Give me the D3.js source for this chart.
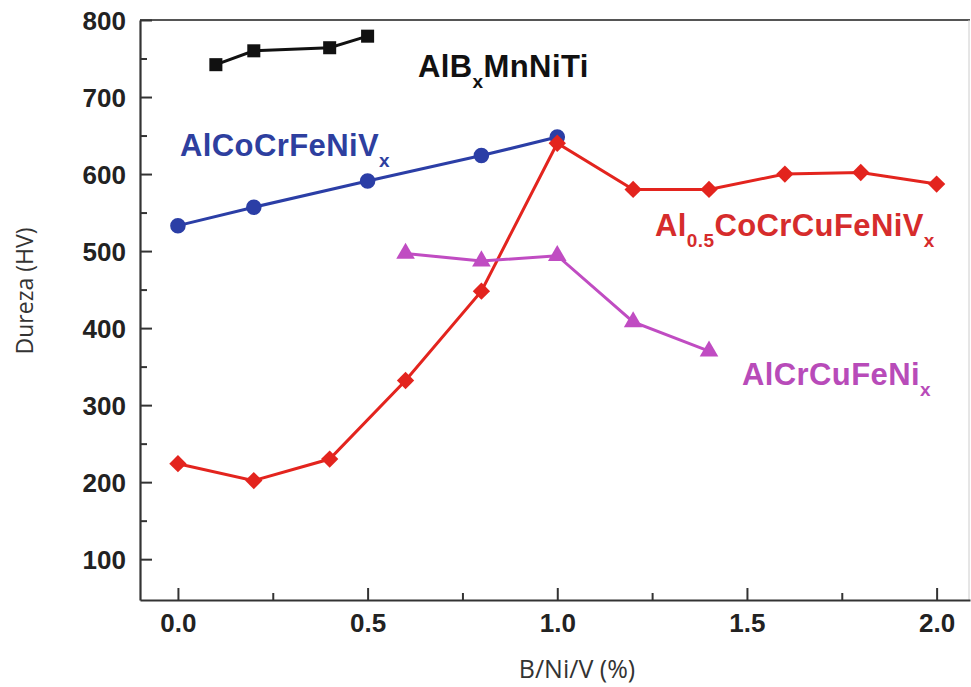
<!DOCTYPE html>
<html>
<head>
<meta charset="utf-8">
<script src="https://cdn.jsdelivr.net/npm/d3@7"></script>
<style>
  html, body { margin: 0; padding: 0; background: #fff; }
  svg { display: block; }
</style>
</head>
<body>
<svg id="chart" width="971" height="687"></svg>
<script>
// Boron / nickel / vanadium content (x) and Vickers hardness (HV)
const xAlBMnNiTi = [0.1, 0.2, 0.4, 0.5];
const yAlBMnNiTi = [742, 760, 764, 779];

const xAlCoCrFeNiV = [0.0, 0.2, 0.5, 0.8, 1.0];
const yAlCoCrFeNiV = [533, 557, 591, 624, 648];

const xAl05CoCrCuFeNiV = [0.0, 0.2, 0.4, 0.6, 0.8, 1.0, 1.2, 1.4, 1.6, 1.8, 2.0];
const yAl05CoCrCuFeNiV = [224, 202, 230, 332, 448, 640, 580, 580, 600, 602, 587];

const xAlCrCuFeNi = [0.6, 0.8, 1.0, 1.2, 1.4];
const yAlCrCuFeNi = [497, 487, 494, 408, 370];

const xTicks = [0.0, 0.5, 1.0, 1.5, 2.0];
const xMinorTicks = [0.25, 0.75, 1.25, 1.75];
const yTicks = [100, 200, 300, 400, 500, 600, 700, 800];
const yMinorTicks = [150, 250, 350, 450, 550, 650, 750];

const xTitle = "B/Ni/V (%)";
const yTitle = "Dureza (HV)";

const svg = d3.select("#chart");

const x = d3.scaleLinear().domain([-0.1, 2.088]).range([140, 970]);
const y = d3.scaleLinear().domain([47, 800]).range([600, 20]);

const axisColor = "#333";
const tickFont = "'Liberation Sans', Arial, sans-serif";

// Frame (top and right edges)
svg.append("line").attr("x1", x.range()[0]).attr("x2", x.range()[1])
  .attr("y1", y.range()[1]).attr("y2", y.range()[1])
  .attr("stroke", "#555").attr("stroke-width", 2);
svg.append("line").attr("x1", x.range()[1] - 1).attr("x2", x.range()[1] - 1)
  .attr("y1", y.range()[1]).attr("y2", y.range()[0])
  .attr("stroke", "#ccc").attr("stroke-width", 1);

// Minor ticks (inward, no labels)
svg.append("g").attr("transform", `translate(0,${y.range()[0]})`)
  .call(d3.axisBottom(x).tickValues(xMinorTicks).tickSize(-7).tickFormat(""))
  .call(g => g.select(".domain").remove());
svg.append("g").attr("transform", `translate(${x.range()[0]},0)`)
  .call(d3.axisLeft(y).tickValues(yMinorTicks).tickSize(-7).tickFormat(""))
  .call(g => g.select(".domain").remove());

// Major axes
const xAxis = svg.append("g").attr("transform", `translate(0,${y.range()[0]})`)
  .call(d3.axisBottom(x).tickValues(xTicks).tickSizeInner(-12).tickSizeOuter(0)
    .tickPadding(14).tickFormat(d3.format(".1f")));
const yAxis = svg.append("g").attr("transform", `translate(${x.range()[0]},0)`)
  .call(d3.axisLeft(y).tickValues(yTicks).tickSizeInner(-12).tickSizeOuter(0)
    .tickPadding(14).tickFormat(d3.format("d")));

[xAxis, yAxis].forEach(g => {
  g.selectAll(".domain").attr("stroke", axisColor).attr("stroke-width", 2.2);
  g.selectAll("text").attr("font-family", tickFont).attr("font-weight", "bold")
    .attr("font-size", 26).attr("fill", "#222");
});
svg.selectAll(".tick line").attr("stroke", axisColor).attr("stroke-width", 2);
yAxis.selectAll("text").attr("dy", "0.36em");

// Axis titles
svg.append("text").attr("x", 577).attr("y", 678).attr("text-anchor", "middle")
  .attr("font-family", "'Open Sans', sans-serif").attr("font-size", 25)
  .attr("fill", "#333").text(xTitle);
svg.append("text").attr("transform", "translate(33,291) rotate(-90)")
  .attr("text-anchor", "middle")
  .attr("font-family", "'Open Sans', sans-serif").attr("font-size", 23)
  .attr("fill", "#333").text(yTitle);

// Series
const series = [
  { xs: xAlBMnNiTi, ys: yAlBMnNiTi, color: "#111111", marker: "square" },
  { xs: xAlCoCrFeNiV, ys: yAlCoCrFeNiV, color: "#2b3ea6", marker: "circle" },
  { xs: xAl05CoCrCuFeNiV, ys: yAl05CoCrCuFeNiV, color: "#e3241e", marker: "diamond" },
  { xs: xAlCrCuFeNi, ys: yAlCrCuFeNi, color: "#c04cc2", marker: "triangle" }
];

const line = d3.line().x(d => x(d[0])).y(d => y(d[1]));
const markerPath = {
  square: d3.symbol(d3.symbolSquare, 170)(),
  circle: d3.symbol(d3.symbolCircle, 190)(),
  diamond: d3.symbol(d3.symbolSquare, 150)(),
  triangle: d3.symbol(d3.symbolTriangle, 150)()
};

series.forEach(s => {
  const pts = s.xs.map((v, i) => [v, s.ys[i]]);
  svg.append("path").datum(pts).attr("d", line)
    .attr("fill", "none").attr("stroke", s.color).attr("stroke-width", 3);
  svg.append("g").selectAll("path").data(pts).join("path")
    .attr("d", markerPath[s.marker])
    .attr("transform", d => `translate(${x(d[0])},${y(d[1])})` + (s.marker === "diamond" ? " rotate(45)" : ""))
    .attr("fill", s.color);
});

// Series labels with subscripts
const labelFont = "'Liberation Sans', Arial, sans-serif";
function label(xp, yp, parts, color) {
  const t = svg.append("text").attr("x", xp).attr("y", yp)
    .attr("font-family", labelFont).attr("font-weight", "bold")
    .attr("font-size", 31).attr("letter-spacing", 0.4).attr("fill", color);
  parts.forEach(p => {
    if (p.sub) {
      t.append("tspan").attr("font-size", 19).attr("dy", 11).text(p.sub);
    } else {
      const ts = t.append("tspan").text(p.text);
      if (p.after) ts.attr("dy", -11);
    }
  });
}
label(418, 77, [{ text: "AlB" }, { sub: "x" }, { text: "MnNiTi", after: true }], "#111111");
label(180, 156, [{ text: "AlCoCrFeNiV" }, { sub: "x" }], "#2e3f9f");
label(655, 236, [{ text: "Al" }, { sub: "0.5" }, { text: "CoCrCuFeNiV", after: true }, { sub: "x" }], "#d62c2c");
label(742, 385, [{ text: "AlCrCuFeNi" }, { sub: "x" }], "#b84bb9");
</script>
</body>
</html>
